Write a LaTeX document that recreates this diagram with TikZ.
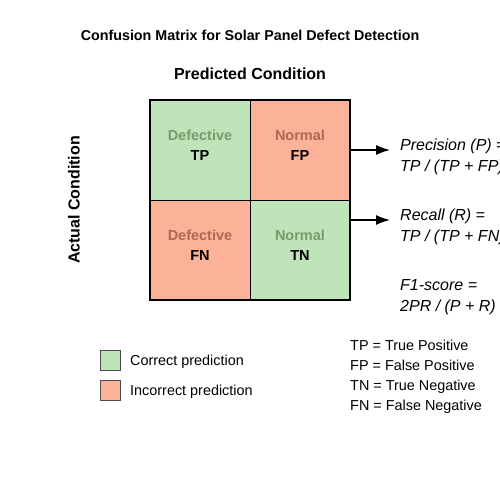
\documentclass[tikz,border=0pt]{standalone}
\usepackage{fontspec}
\setmainfont{Liberation Sans}
\usetikzlibrary{arrows.meta}
\definecolor{okgreen}{RGB}{191,228,186}
\definecolor{badred}{RGB}{252,177,153}
\definecolor{okgreentext}{RGB}{118,156,110}
\definecolor{badredtext}{RGB}{176,104,84}
\tikzset{
  cell/.style={draw=black, line width=1.3pt, minimum width=100pt, minimum height=100pt, inner sep=0pt, anchor=north west},
  celltext/.style={font=\fontsize{14.5}{16}\selectfont\bfseries, anchor=base},
  plain/.style={font=\fontsize{14.4}{16}\selectfont, anchor=base west, inner sep=0pt},
  formula/.style={font=\fontsize{16}{18}\selectfont\itshape, anchor=base west, inner sep=0pt},
  arr/.style={line width=1.3pt, -{Latex[length=14pt,width=10pt]}},
  legbox/.style={draw=black!70, line width=0.8pt, minimum width=20pt, minimum height=20pt, inner sep=0pt, anchor=north west}
}
\begin{document}
\begin{tikzpicture}[x=1pt,y=-1pt]
\useasboundingbox (0,0) rectangle (500,500);
\fill[white] (0,0) rectangle (500,500);
\node[font=\fontsize{14.3}{16}\selectfont\bfseries] (title) at (250,35) {Confusion Matrix for Solar Panel Defect Detection};
\node[font=\fontsize{16}{18}\selectfont\bfseries] (pred) at (250,74) {Predicted Condition};
\node[font=\fontsize{16}{18}\selectfont\bfseries, rotate=90] (act) at (74,200) {Actual Condition};
\node[cell, fill=okgreen] (tp) at (150,100) {};
\node[cell, fill=badred] (fp) at (250,100) {};
\node[cell, fill=badred] (fn) at (150,200) {};
\node[cell, fill=okgreen] (tn) at (250,200) {};
\draw[line width=1.3pt] (150,100) rectangle (350,300);
\node[celltext, text=okgreentext] (tpa) at (200,140) {Defective};
\node[celltext] (tpb) at (200,160) {TP};
\node[celltext, text=badredtext] (fpa) at (300,140) {Normal};
\node[celltext] (fpb) at (300,160) {FP};
\node[celltext, text=badredtext] (fna) at (200,240) {Defective};
\node[celltext] (fnb) at (200,260) {FN};
\node[celltext, text=okgreentext] (tna) at (300,240) {Normal};
\node[celltext] (tnb) at (300,260) {TN};
\coordinate (a1s) at (350,150);
\coordinate (a1e) at (390,150);
\coordinate (a2s) at (350,220);
\coordinate (a2e) at (390,220);
\draw[arr] (a1s) -- (a1e);
\draw[arr] (a2s) -- (a2e);
\node[formula] (p1) at (400,150) {Precision (P) =};
\node[formula] (p2) at (400,171) {TP / (TP + FP)};
\node[formula] (r1) at (400,220) {Recall (R) =};
\node[formula] (r2) at (400,241) {TP / (TP + FN)};
\node[formula] (f1) at (400,290) {F1-score =};
\node[formula] (f2) at (400,311) {2PR / (P + R)};
\node[legbox, fill=okgreen] (lg) at (100,350) {};
\node[legbox, fill=badred] (lr) at (100,380) {};
\node[plain] (lgt) at (130,365) {Correct prediction};
\node[plain] (lrt) at (130,395) {Incorrect prediction};
\node[plain] (d1) at (350,350) {TP = True Positive};
\node[plain] (d2) at (350,370) {FP = False Positive};
\node[plain] (d3) at (350,390) {TN = True Negative};
\node[plain] (d4) at (350,410) {FN = False Negative};
\end{tikzpicture}
\end{document}
